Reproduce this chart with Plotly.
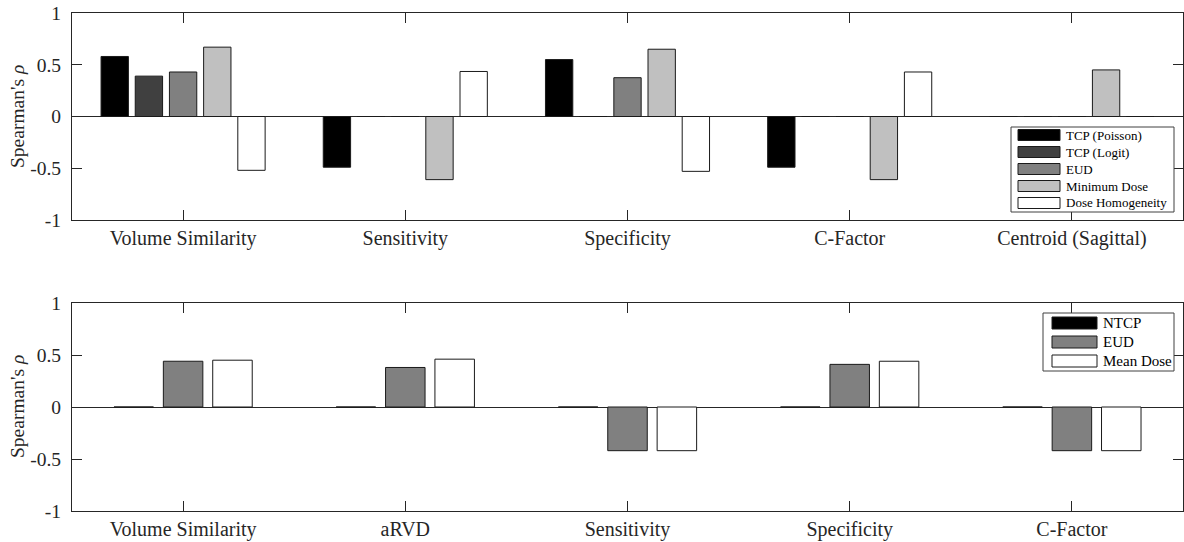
import plotly.graph_objects as go
from plotly.subplots import make_subplots

# Upper panel: tumour metrics vs. geometric similarity indices
top_categories = ["Volume Similarity", "Sensitivity", "Specificity", "C-Factor", "Centroid (Sagittal)"]
top_series = ["TCP (Poisson)", "TCP (Logit)", "EUD", "Minimum Dose", "Dose Homogeneity"]
tcp_poisson = [0.58, -0.49, 0.55, -0.49, 0.0]
tcp_logit = [0.39, 0.0, 0.0, 0.0, 0.0]
eud_top = [0.43, 0.0, 0.375, 0.0, 0.0]
minimum_dose = [0.67, -0.61, 0.65, -0.61, 0.45]
dose_homogeneity = [-0.52, 0.435, -0.53, 0.43, 0.0]
top_values = [tcp_poisson, tcp_logit, eud_top, minimum_dose, dose_homogeneity]
top_colors = ["#000000", "#404040", "#808080", "#c0c0c0", "#ffffff"]

# Lower panel: normal-tissue metrics
bottom_categories = ["Volume Similarity", "aRVD", "Sensitivity", "Specificity", "C-Factor"]
bottom_series = ["NTCP", "EUD", "Mean Dose"]
ntcp = [0.0, 0.0, 0.0, 0.0, 0.0]
eud_bottom = [0.44, 0.38, -0.42, 0.41, -0.42]
mean_dose = [0.45, 0.46, -0.42, 0.44, -0.42]
bottom_values = [ntcp, eud_bottom, mean_dose]
bottom_colors = ["#000000", "#808080", "#ffffff"]

y_ticks = [-1, -0.5, 0, 0.5, 1]
y_tick_text = ["-1", "-0.5", "0", "0.5", "1"]

W, H = 1184, 542
ML, MR, MT, MB = 72, 1, 13, 31
PW, PH = W - ML - MR, H - MT - MB
FONT = "Liberation Serif"
AX = "#262626"


def px(x):
    return (x - ML) / PW


def py(y):
    return (H - MB - y) / PH


fig = make_subplots(rows=2, cols=1, vertical_spacing=0.05)


def add_group(values, names, colors, row):
    n = len(values)
    group = min(0.8, n / (n + 1.5))
    step = group / n
    width = step * 0.8
    for i, (vals, name, col) in enumerate(zip(values, names, colors)):
        xs = list(range(1, len(vals) + 1))
        off = (i - (n - 1) / 2) * step - width / 2
        fig.add_trace(
            go.Bar(
                x=xs, y=vals, name=name, width=width, offset=off,
                marker=dict(color=col, line=dict(color="#1a1a1a", width=1)),
                showlegend=False,
            ),
            row=row, col=1,
        )


add_group(top_values, top_series, top_colors, 1)
add_group(bottom_values, bottom_series, bottom_colors, 2)

axis_common = dict(
    showline=True, linecolor=AX, linewidth=1, mirror="ticks",
    ticks="inside", ticklen=10, tickcolor=AX, tickwidth=1,
    showgrid=False, automargin=False,
)

fig.update_xaxes(range=[0.5, 5.5], tickvals=list(range(1, 6)), zeroline=False,
                 ticklabelstandoff=0, tickfont=dict(family=FONT, size=20, color=AX),
                 **axis_common)
fig.update_xaxes(ticktext=top_categories, row=1, col=1)
fig.update_xaxes(ticktext=bottom_categories, row=2, col=1)
fig.update_yaxes(range=[-1, 1], tickvals=y_ticks, ticktext=y_tick_text,
                 zeroline=True, zerolinecolor=AX, zerolinewidth=1,
                 ticklabelstandoff=6, tickfont=dict(family=FONT, size=19.5, color=AX),
                 **axis_common)

fig.update_layout(
    width=W, height=H,
    margin=dict(l=ML, r=MR, t=MT, b=MB, autoexpand=False),
    barmode="overlay",
    plot_bgcolor="white", paper_bgcolor="white",
    font=dict(family=FONT, color=AX),
    showlegend=False,
)
fig.update_layout(
    yaxis=dict(domain=[py(220), 1.0]),
    yaxis2=dict(domain=[0.0, py(303)]),
)

# Axis titles
for yc in (117, 407):
    fig.add_annotation(
        text="Spearman's <i>ρ</i>", textangle=-90,
        xref="paper", yref="paper", x=px(17), y=py(yc),
        xanchor="center", yanchor="middle", showarrow=False,
        font=dict(family=FONT, size=19.5, color=AX),
    )


# Legend boxes drawn as swatches plus labels
def draw_legend(names, colors, box, sw_x, text_x, rows, sw_h, fsize):
    x0, y0, x1, y1 = box
    fig.add_shape(type="rect", xref="paper", yref="paper",
                  x0=px(x0), x1=px(x1), y0=py(y1), y1=py(y0),
                  line=dict(color="#404040", width=1), fillcolor="white", layer="above")
    for name, col, yc in zip(names, colors, rows):
        fig.add_shape(type="rect", xref="paper", yref="paper",
                      x0=px(sw_x[0]), x1=px(sw_x[1]),
                      y0=py(yc + sw_h / 2), y1=py(yc - sw_h / 2),
                      line=dict(color="#1a1a1a", width=1), fillcolor=col, layer="above")
        fig.add_annotation(text=name, xref="paper", yref="paper",
                           x=px(text_x), y=py(yc), xanchor="left", yanchor="middle",
                           showarrow=False,
                           font=dict(family=FONT, size=fsize, color="#000000"))


draw_legend(top_series, top_colors, (1011, 127, 1174, 212), (1018, 1060), 1064,
            [135, 152, 169, 186, 203], 11, 13)
draw_legend(bottom_series, bottom_colors, (1043, 313, 1174, 371), (1052, 1097), 1101,
            [323, 342, 361], 12, 15)

fig.write_html("out.html")
